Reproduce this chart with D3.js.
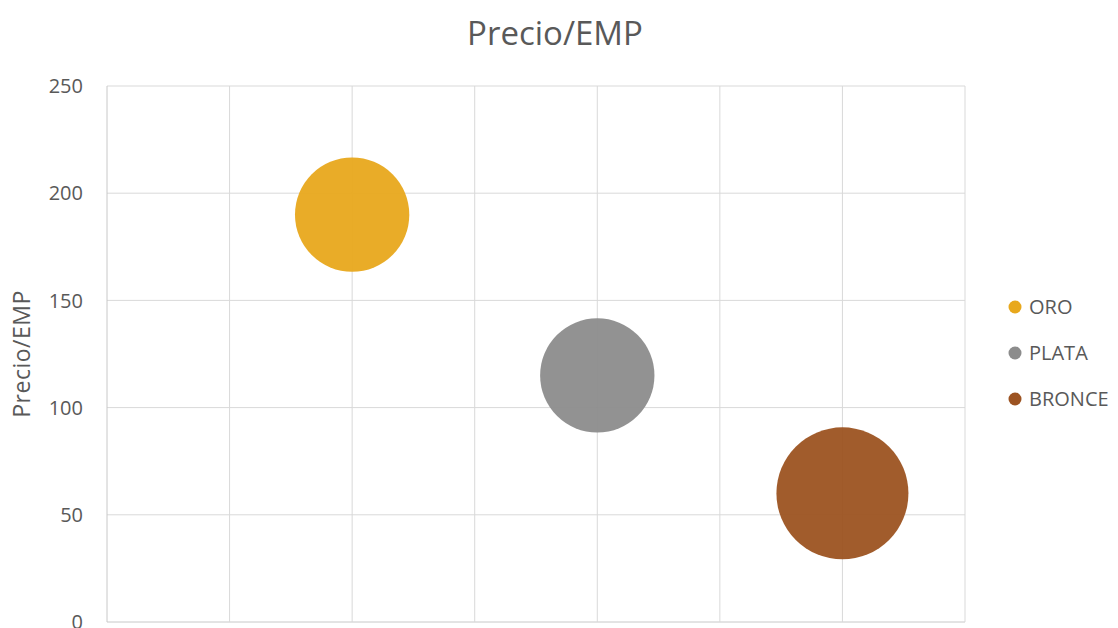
<!DOCTYPE html>
<html>
<head>
<meta charset="utf-8">
<script src="https://cdn.jsdelivr.net/npm/d3@7"></script>
<style>
  body { margin: 0; background: #fff; }
  svg { display: block; font-family: "Open Sans", "Noto Sans", sans-serif; }
</style>
</head>
<body>
<script>
// bubble data (x position, Precio/EMP, bubble size)
var series = ['ORO', 'PLATA', 'BRONCE'];
var xValues = [1, 2, 3];
var yValues = [190, 115, 60];
var sizes = [3, 3, 4];
var colors = ['#E8A81C', '#8C8C8C', '#9C5321'];
var yTicks = [0, 50, 100, 150, 200, 250];
var xGrid = [0, 0.5, 1, 1.5, 2, 2.5, 3, 3.5];

var width = 1118, height = 628;
var margin = { top: 86, left: 107, right: 153, bottom: 6 };

var svg = d3.select('body').append('svg')
    .attr('width', width)
    .attr('height', height);

var xScale = d3.scaleLinear().domain([0, 3.5]).range([margin.left, width - margin.right]);
var yScale = d3.scaleLinear().domain([0, 250]).range([height - margin.bottom, margin.top]);
// largest bubble ~ 1/4 of plot height in diameter, area proportional to size
var rScale = d3.scaleSqrt().domain([0, d3.max(sizes)]).range([0, 66]);

// gridlines
svg.append('g').selectAll('line.h')
    .data(yTicks)
    .enter().append('line')
    .attr('x1', xScale(0)).attr('x2', xScale(3.5))
    .attr('y1', d => yScale(d)).attr('y2', d => yScale(d))
    .attr('stroke', d => d == 0 ? '#c8c8c8' : '#d9d9d9')
    .attr('stroke-width', 1);

svg.append('g').selectAll('line.v')
    .data(xGrid)
    .enter().append('line')
    .attr('x1', d => xScale(d)).attr('x2', d => xScale(d))
    .attr('y1', yScale(250)).attr('y2', yScale(0))
    .attr('stroke', d => d == 0 ? '#c8c8c8' : '#d9d9d9')
    .attr('stroke-width', 1);

// y tick labels
svg.append('g').selectAll('text')
    .data(yTicks)
    .enter().append('text')
    .attr('x', 83)
    .attr('y', d => yScale(d))
    .attr('dy', '0.36em')
    .attr('text-anchor', 'end')
    .attr('fill', '#595959')
    .style('font-size', '20px')
    .text(d => d);

// y axis title
svg.append('text')
    .attr('transform', `translate(30,${yScale(125)}) rotate(-90)`)
    .attr('text-anchor', 'middle')
    .attr('fill', '#595959')
    .style('font-size', '23px')
    .style('letter-spacing', '0.5px')
    .text('Precio/EMP');

// chart title
svg.append('text')
    .attr('x', 555).attr('y', 45)
    .attr('text-anchor', 'middle')
    .attr('fill', '#595959')
    .style('font-size', '33px')
    .text('Precio/EMP');

// bubbles
svg.append('g').selectAll('circle')
    .data(series)
    .enter().append('circle')
    .attr('cx', (d, i) => xScale(xValues[i]))
    .attr('cy', (d, i) => yScale(yValues[i]))
    .attr('r', (d, i) => rScale(sizes[i]))
    .attr('fill', (d, i) => colors[i])
    .attr('fill-opacity', 0.95);

// legend
var legend = svg.append('g').selectAll('g')
    .data(series)
    .enter().append('g')
    .attr('transform', (d, i) => `translate(1015,${307 + i * 46})`);
legend.append('circle')
    .attr('r', 6.5)
    .attr('fill', (d, i) => colors[i]);
legend.append('text')
    .attr('x', 14)
    .attr('dy', '0.36em')
    .attr('fill', '#595959')
    .style('font-size', '20px')
    .text(d => d);
</script>
</body>
</html>
